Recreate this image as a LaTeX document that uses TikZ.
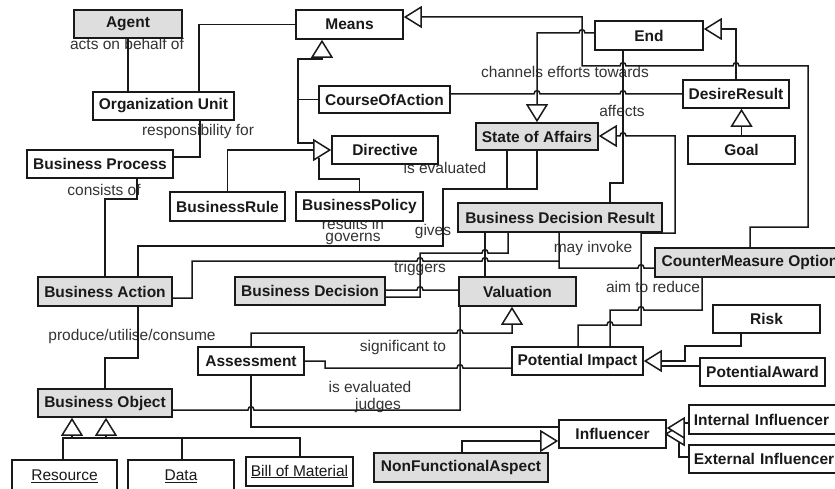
\documentclass[tikz,border=0pt]{standalone}
\usepackage{fontspec}
\setmainfont{Liberation Sans}
\usetikzlibrary{arrows.meta,backgrounds}
\begin{document}
\begin{tikzpicture}[x=1pt,y=-1pt,
  box/.style={draw=black!90, line width=1.6pt, fill=white, inner sep=0pt, font=\fontsize{15.5}{18}\selectfont\bfseries, text=black!90},
  gbox/.style={box, fill=black!13},
  ubox/.style={box, font=\fontsize{15.5}{18}\selectfont},
  lbl/.style={font=\fontsize{15.5}{18}\selectfont, text=black!80, inner sep=0pt},
  ln/.style={draw=black!90, line width=1.5pt},
  gen/.style={ln, -{Triangle[length=18pt,width=22pt,fill=white]}},
  tri/.style={ln, fill=white, line join=miter}
]
\useasboundingbox (0,0) rectangle (835,489);
% nodes
\node[gbox, minimum width=108pt, minimum height=28pt] (agent) at (128,24) {Agent};
\node[box, minimum width=107pt, minimum height=29pt] (means) at (349.5,24.5) {Means};
\node[box, minimum width=108pt, minimum height=29pt] (end) at (649,35.5) {End};
\node[box, minimum width=141pt, minimum height=28pt] (ou) at (163.5,106) {Organization Unit};
\node[box, minimum width=131pt, minimum height=27pt] (coa) at (384.5,99.5) {CourseOfAction};
\node[box, minimum width=106pt, minimum height=28pt] (dr) at (736,94) {DesireResult};
\node[gbox, minimum width=122pt, minimum height=27pt] (soa) at (537,136.5) {State of Affairs};
\node[box, minimum width=107pt, minimum height=28pt] (goal) at (741.5,150) {Goal};
\node[box, minimum width=146pt, minimum height=28pt] (bp) at (100,164) {Business Process};
\node[box, minimum width=106pt, minimum height=28pt] (directive) at (385,150) {Directive};
\node[box, minimum width=115pt, minimum height=29pt] (br) at (227.5,206.5) {BusinessRule};
\node[box, minimum width=127pt, minimum height=29pt] (bpol) at (359.5,206.5) {BusinessPolicy};
\node[gbox, minimum width=204pt, minimum height=29pt] (bdr) at (560,217.5) {Business Decision Result};
\node[gbox, minimum width=190pt, minimum height=29pt] (cmo) at (750,262.5) {CounterMeasure Option};
\node[gbox, minimum width=134pt, minimum height=29pt] (ba) at (105,291.5) {Business Action};
\node[gbox, minimum width=150pt, minimum height=28pt] (bd) at (310,291) {Business Decision};
\node[gbox, minimum width=117pt, minimum height=29pt] (val) at (517.5,291.5) {Valuation};
\node[box, minimum width=107pt, minimum height=28pt] (risk) at (766.5,319) {Risk};
\node[box, minimum width=106pt, minimum height=28pt] (asm) at (251,361) {Assessment};
\node[box, minimum width=131pt, minimum height=28pt] (pi) at (577.5,361) {Potential Impact};
\node[box, minimum width=125pt, minimum height=28pt] (pa) at (762.5,372) {PotentialAward};
\node[gbox, minimum width=134pt, minimum height=28pt] (bo) at (105,403) {Business Object};
\node[box, anchor=west, inner xsep=5pt, text width=147pt, align=left, minimum height=29pt] (ii) at (688,419.5) {Internal Influencer};
\node[box, anchor=west, inner xsep=5pt, text width=147pt, align=left, minimum height=28pt] (ei) at (688,459) {External Influencer};
\node[box, minimum width=107pt, minimum height=28pt] (inf) at (612.5,434) {Influencer};
\node[gbox, minimum width=174pt, minimum height=29pt] (nfa) at (461,467.5) {NonFunctionalAspect};
\node[ubox, minimum width=105pt, minimum height=32pt] (res) at (64.5,476) {\underline{Resource}};
\node[ubox, minimum width=106pt, minimum height=32pt] (data) at (181,476) {\underline{Data}};
\node[ubox, minimum width=107pt, minimum height=29pt] (bom) at (299.5,471.5) {\underline{Bill of Material}};

\begin{scope}[on background layer]
% labels
\node[lbl] (l1) at (127,44) {acts on behalf of};
\node[lbl] (l2) at (198,131) {responsibility for};
\node[lbl] (l3) at (104,190) {consists of};
\node[lbl] (l4) at (132,336) {produce/utilise/consume};
\node[lbl] (l5) at (565,72) {channels efforts towards};
\node[lbl] (l6) at (622,111) {affects};
\node[lbl] (l7) at (445,168) {is evaluated};
\node[lbl] (l8) at (353,224) {results in};
\node[lbl] (l9) at (353,239) {governs};
\node[lbl] (l10) at (433,231) {gives};
\node[lbl] (l11) at (420,268) {triggers};
\node[lbl] (l12) at (593,248) {may invoke};
\node[lbl] (l13) at (653,287) {aim to reduce};
\node[lbl] (l14) at (403,347) {significant to};
\node[lbl] (l15) at (370,387) {is evaluated};
\node[lbl] (l16) at (378,405) {judges};

% connectors
\draw[ln] (agent.south) -- (agent.south |- ou.north);
\draw[ln] (ou.north -| 199,0) |- (means.west);
\draw[ln] (ou.south -| 200,0) |- (bp.east |- 0,157);
\draw[ln] (bp.south -| 137,0) -- (137,199) -| (ba.north);
\draw[ln] (ba.south -| 138,0) -- (138,358) -| (bo.north);
% Means generalisation
\draw[ln] (coa.west) -- (coa.west -| 298,0);
\draw[gen] (314,143) -- (298,143) -- (298,59) -| (means.south -| 322,0);
% Directive generalisation
\draw[ln] (bpol.north) |- (319,179) -- (319,158);
\draw[gen] (br.north) |- (directive.west);
% CounterMeasure -> Means
\draw[gen] (cmo.north) -- (750,227) -- (808,227) -- (808,66) -- (739,66) .. controls (739,61.5) and (733,61.5) .. (733,66) -- (626,66) .. controls (626,61.5) and (620,61.5) .. (620,66) -- (582,66) -- (582,17) -- (means.east |- 0,17);
% End -> State of Affairs
\draw[gen] (end.west |- 0,33) -- (585,33) .. controls (585,28.5) and (579,28.5) .. (579,33) -- (537,33) -- (soa.north);
% DesireResult -> End
\draw[gen] (dr.north) -- (736,29) -- (end.east |- 0,29);
\draw[gen] (goal.north) -- (goal.north |- dr.south);
% channels efforts towards
\draw[ln] (coa.east |- 0,94) -- (534,94) .. controls (534,89.5) and (540,89.5) .. (540,94) -- (620,94) .. controls (620,89.5) and (626,89.5) .. (626,94) -- (dr.west |- 0,94);
% affects
\draw[ln] (end.south -| 623,0) -- (623,183) -- (610,183) -- (bdr.north -| 610,0);
% Potential Impact -> State of Affairs
\draw[gen] (pi.north -| 578,0) -- (578,325) -- (607,325) .. controls (607,320.5) and (613,320.5) .. (613,325) -- (641,325) -- (641,233) -- (675,233) -- (675,136) -- (626,136) .. controls (626,131.5) and (620,131.5) .. (620,136) -- (soa.east |- 0,136);
% aim to reduce
\draw[ln] (cmo.south -| 702,0) -- (702,310) -- (644,310) .. controls (644,305.5) and (638,305.5) .. (638,310) -- (610,310) -- (pi.north -| 610,0);
% may invoke
\draw[ln] (bdr.south -| 559,0) -- (559,268) -- (638,268) .. controls (638,263.5) and (644,263.5) .. (644,268) -- (cmo.west |- 0,268);
% Business Action line
\draw[ln] (ba.east |- 0,298) -- (192,298) -- (192,261) -- (417,261) .. controls (417,256.5) and (423,256.5) .. (423,261) -- (482,261) .. controls (482,256.5) and (488,256.5) .. (488,261) -- (559,261);
% governs / is evaluated
\draw[ln] (ba.north -| 138,0) -- (138,246) -- (443,246) -- (443,189) -- (537,189) -- (soa.south);
\draw[ln] (soa.south -| 507,0) -- (507,189);
% triggers
\draw[ln] (bd.east |- 0,290) -- (417,290) .. controls (417,285.5) and (423,285.5) .. (423,290) -- (val.west |- 0,290);
% gives
\draw[ln] (bd.east |- 0,297) -- (420,297) -- (420,253) -- (482,253) .. controls (482,248.5) and (488,248.5) .. (488,253) -- (508,253) -- (bdr.south -| 508,0);
\draw[ln] (bdr.south -| 485,0) -- (val.north -| 485,0);
% Assessment -> Valuation
\draw[gen] (asm.north) -- (251,333) -- (457,333) .. controls (457,328.5) and (463,328.5) .. (463,333) -- (512,333) -- (val.south -| 512,0);
% Business Object -> Valuation
\draw[ln] (bo.east |- 0,410) -- (248,410) .. controls (248,405.5) and (254,405.5) .. (254,410) -- (460,410) -- (val.south -| 460,0);
% significant to
\draw[ln] (asm.east) -- (325,361) -- (325,368) -- (457,368) .. controls (457,363.5) and (463,363.5) .. (463,368) -- (pi.west |- 0,368);
% Assessment -> Influencer
\draw[ln] (asm.south) -- (251,427) -- (inf.west |- 0,427);
\draw[gen] (nfa.north -| 462,0) -- (462,441) -- (inf.west |- 0,441);
% Risk, PotentialAward -> Potential Impact
\draw[ln] (pa.west |- 0,366) -- (661,366);
\draw[gen] (risk.south -| 741,0) -- (741,346) -- (685,346) -- (685,361) -- (pi.east);
% Influencer subclasses
\draw[tri] (666,434) -- (684,423) -- (684,445) -- cycle;
\draw[ln] (ei.west |- 0,457) -- (679,457) -- (679,442);
\draw[gen] (ii.west |- 0,423) -- (684,423) -- (684,428) -- (inf.east |- 0,428);
% Business Object subclasses
\draw[ln] (bom.north -| 300,0) -- (300,438) -- (72,438);
\draw[gen] (res.north -| 63,0) -- (63,438) -- (72,438) -- (bo.south -| 72,0);
\draw[gen] (data.north -| 182,0) -- (182,438) -- (106,438) -- (bo.south -| 106,0);
\end{scope}
\end{tikzpicture}
\end{document}
